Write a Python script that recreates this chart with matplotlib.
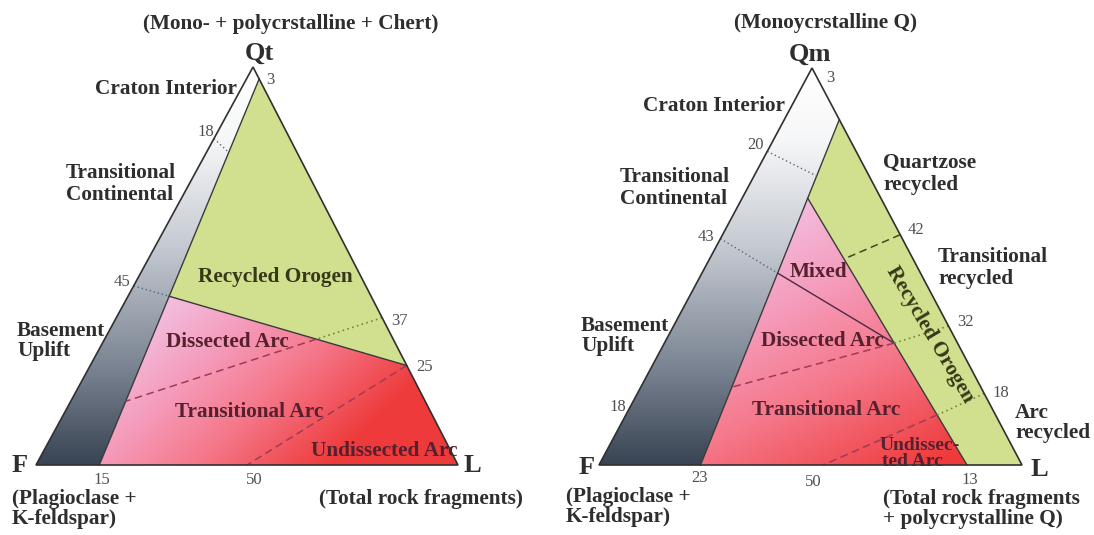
import numpy as np
import matplotlib.pyplot as plt
from matplotlib.patches import Polygon
from matplotlib.colors import LinearSegmentedColormap

# ternary field boundaries, points given as (Q, F, L) in percent
# left diagram: QtFL
qtfl_block = [(97, 0, 3), (0, 85, 15)]            # continental block limit
qtfl_orogen = [(45, 55, 0), (25, 0, 75)]          # recycled orogen / magmatic arc
qtfl_ci_tc = [(82, 18, 0), (78.6, 16.2, 5.2)]     # craton interior / transitional
qtfl_dissected = [(37, 0, 63), (16, 71, 13)]      # dissected / transitional arc
qtfl_undissected = [(25, 0, 75), (0, 50, 50)]     # transitional / undissected arc

# right diagram: QmFLt
qmflt_block = [(87, 0, 13), (0, 76, 24)]
qmflt_orogen = [(67.2, 17.3, 15.5), (0, 13, 87)]
qmflt_ci_tc = [(79, 21, 0), (72.8, 12.4, 14.8)]
qmflt_mixed = [(57, 43, 0), (30.7, 15.0, 54.3)]
qmflt_quartzose = [(58, 0, 42), (51.9, 16.3, 31.8)]
qmflt_dissected = [(35, 0, 65), (30.7, 15.0, 54.3), (19.6, 58.9, 21.5)]
qmflt_undissected = [(18, 0, 82), (12.6, 13.8, 73.6), (0, 47, 53)]

# tick labels
qtfl_ticks = ['3', '18', '45', '37', '25', '15', '50']
qmflt_ticks = ['3', '20', '43', '42', '32', '18', '18', '23', '50', '13']

# triangle corners in figure pixels (Q, F, L)
tri_left = [(253, 67), (36, 465), (458, 465)]
tri_right = [(812, 68), (599, 465), (1022, 465)]

SERIF = 'Liberation Serif'
DARK = '#2e2e2e'
ARC = '#56202e'
OROG = '#37371a'

gray_cmap = LinearSegmentedColormap.from_list('gray', [(0, '#ffffff'), (0.18, '#f6f7f8'), (0.45, '#c5cad2'),
                                                       (0.75, '#7c8593'), (1, '#394454')])
pink_cmap = LinearSegmentedColormap.from_list('pink', [(0, '#f3bfe0'), (0.3, '#f59cbc'), (0.6, '#f5788a'),
                                                       (1, '#ee3a3a')])
GREEN = '#d1e08e'


def tern(p, tri):
    q, f, l = np.asarray(p, float) / 100.0
    (qx, qy), (fx, fy), (lx, ly) = tri
    return np.array([q * qx + f * fx + l * lx, q * qy + f * fy + l * ly])


def cr(u, v):
    return u[0] * v[1] - u[1] * v[0]


def meet(a1, a2, b1, b2):
    d1 = a2 - a1
    d2 = b2 - b1
    t = cr(b1 - a1, d2) / cr(d1, d2)
    return a1 + t * d1


def grad_fill(ax, pts, cmap, p0, p1):
    pts = np.asarray(pts)
    poly = Polygon(pts, closed=True, facecolor='none', edgecolor='none')
    ax.add_patch(poly)
    x0, y0 = pts.min(0)
    x1, y1 = pts.max(0)
    X, Y = np.meshgrid(np.linspace(x0, x1, 300), np.linspace(y0, y1, 300))
    d = np.array(p1, float) - np.array(p0, float)
    v = ((X - p0[0]) * d[0] + (Y - p0[1]) * d[1]) / (d @ d)
    im = ax.imshow(np.clip(v, 0, 1), extent=(x0, x1, y1, y0), cmap=cmap, vmin=0, vmax=1,
                   aspect='auto', interpolation='bilinear', zorder=1)
    im.set_clip_path(poly)


def seg(ax, a, b, style='-', color='#3a3a3a', lw=1.0):
    ls = {'-': '-', ':': (0, (1, 2)), '--': (0, (5, 3))}[style]
    ax.plot([a[0], b[0]], [a[1], b[1]], linestyle=ls, color=color, lw=lw, zorder=3)


def label(ax, x, y, s, size=15.3, color=DARK, ha='center', weight='bold', **kw):
    ax.text(x, y, s, fontsize=size, color=color, ha=ha, va='center', family=SERIF,
            fontweight=weight, **kw)


def tick(ax, x, y, s):
    label(ax, x, y, s, size=12, color='#505050', weight='normal')


fig = plt.figure(figsize=(10.94, 5.35), dpi=100)
ax = fig.add_axes([0, 0, 1, 1])

# ---------------- left: QtFL ----------------
T = tri_left
Q, F, L = [np.array(v, float) for v in T]
b1, b2 = tern(qtfl_block[0], T), tern(qtfl_block[1], T)
o1, o2 = tern(qtfl_orogen[0], T), tern(qtfl_orogen[1], T)
x1 = meet(o1, o2, b1, b2)

grad_fill(ax, [Q, b1, b2, F], gray_cmap, (0, 67), (0, 465))
ax.add_patch(Polygon([b1, o2, x1], closed=True, facecolor=GREEN, edgecolor='none', zorder=1))
grad_fill(ax, [x1, o2, L, b2], pink_cmap, (165, 300), (325, 470))

seg(ax, b1, b2)
seg(ax, x1, o2, '-', '#3a3a3a')
seg(ax, o1, x1, ':', '#5a6678')
c1, c2 = tern(qtfl_ci_tc[0], T), tern(qtfl_ci_tc[1], T)
seg(ax, c1, c2, ':', '#5a6678')
d1, d2 = tern(qtfl_dissected[0], T), tern(qtfl_dissected[1], T)
dx = meet(d1, d2, o1, o2)
seg(ax, d1, dx, ':', '#6f8a3c', 1.2)
seg(ax, dx, d2, '--', '#a03a55', 1.1)
u1, u2 = tern(qtfl_undissected[0], T), tern(qtfl_undissected[1], T)
seg(ax, u1, u2, '--', '#a03a55', 1.1)
ax.add_patch(Polygon(T, closed=True, facecolor='none', edgecolor='#303030', lw=1.2, zorder=4))

label(ax, 291, 24, '(Mono- + polycrstalline + Chert)')
label(ax, 259, 53, 'Qt', size=19)
label(ax, 237, 89, 'Craton Interior', ha='right')
label(ax, 66, 184, 'Transitional\nContinental', ha='left', linespacing=1.15)
label(ax, 17, 341, 'Basement\nUplift', ha='left', linespacing=1.05)
label(ax, 275, 277, 'Recycled Orogen', color=OROG)
label(ax, 227, 342, 'Dissected Arc', color=ARC)
label(ax, 249, 412, 'Transitional Arc', color=ARC)
label(ax, 384, 451, 'Undissected Arc', color=ARC)
label(ax, 20, 465, 'F', size=19)
label(ax, 472, 466, 'L', size=19)
label(ax, 12, 509, '(Plagioclase +\nK-feldspar)', ha='left', linespacing=1.0)
label(ax, 421, 499, '(Total rock fragments)')
for s, (x, y) in zip(qtfl_ticks, [(270, 80), (206, 132), (122, 282), (400, 321),
                                  (425, 367), (102, 480), (254, 480)]):
    tick(ax, x, y, s)

# ---------------- right: QmFLt ----------------
T = tri_right
Q, F, L = [np.array(v, float) for v in T]
b1, b2 = tern(qmflt_block[0], T), tern(qmflt_block[1], T)
g1, g2 = tern(qmflt_orogen[0], T), tern(qmflt_orogen[1], T)

grad_fill(ax, [Q, b1, b2, F], gray_cmap, (0, 68), (0, 465))
ax.add_patch(Polygon([b1, L, g2, g1], closed=True, facecolor=GREEN, edgecolor='none', zorder=1))
grad_fill(ax, [g1, g2, b2], pink_cmap, (790, 200), (930, 470))

seg(ax, b1, b2)
seg(ax, g1, g2)
c1, c2 = tern(qmflt_ci_tc[0], T), tern(qmflt_ci_tc[1], T)
seg(ax, c1, c2, ':', '#5a6678')
m1, m2 = tern(qmflt_mixed[0], T), tern(qmflt_mixed[1], T)
mx = meet(m1, m2, b1, b2)
seg(ax, m1, mx, ':', '#5a6678')
seg(ax, mx, m2, '-', '#4a2a45')
q1, q2 = tern(qmflt_quartzose[0], T), tern(qmflt_quartzose[1], T)
seg(ax, q1, q2, '--', '#3c4a22', 1.1)
p = [tern(v, T) for v in qmflt_dissected]
seg(ax, p[0], p[1], ':', '#6f8a3c', 1.2)
seg(ax, p[1], p[2], '--', '#a03a55', 1.1)
p = [tern(v, T) for v in qmflt_undissected]
seg(ax, p[0], p[1], ':', '#6f8a3c', 1.2)
seg(ax, p[1], p[2], '--', '#a03a55', 1.1)
ax.add_patch(Polygon(T, closed=True, facecolor='none', edgecolor='#303030', lw=1.2, zorder=4))

label(ax, 825, 23, '(Monoycrstalline Q)')
label(ax, 810, 54, 'Qm', size=19)
label(ax, 785, 106, 'Craton Interior', ha='right')
label(ax, 620, 188, 'Transitional\nContinental', ha='left', linespacing=1.15)
label(ax, 883, 174, 'Quartzose\nrecycled', ha='left', linespacing=1.15)
label(ax, 938, 268, 'Transitional\nrecycled', ha='left', linespacing=1.1)
label(ax, 581, 336, 'Basement\nUplift', ha='left', linespacing=1.05)
label(ax, 1015, 423, 'Arc\nrecycled', ha='left', linespacing=1.05)
label(ax, 818, 272, 'Mixed', color=ARC)
label(ax, 930, 335, 'Recycled Orogen', color=OROG, rotation=-59.5, rotation_mode='anchor')
label(ax, 822, 341, 'Dissected Arc', color=ARC)
label(ax, 826, 410, 'Transitional Arc', color=ARC)
label(ax, 920, 445, 'Undissec-', size=14, color=ARC)
label(ax, 912, 462, 'ted Arc', size=14, color=ARC)
label(ax, 587, 467, 'F', size=19)
label(ax, 1039, 470, 'L', size=19)
label(ax, 566, 507, '(Plagioclase +\nK-feldspar)', ha='left', linespacing=1.0)
label(ax, 883, 509, '(Total rock fragments\n+ polycrystalline Q)', ha='left', linespacing=1.05)
for s, (x, y) in zip(qmflt_ticks, [(830, 78), (756, 145), (706, 237), (916, 230), (965, 322),
                                   (1001, 393), (618, 407), (700, 478), (813, 482), (970, 480)]):
    tick(ax, x, y, s)

ax.set_xlim(0, 1094)
ax.set_ylim(535, 0)
ax.axis('off')
fig.savefig('out.png', dpi=100, facecolor='white')
